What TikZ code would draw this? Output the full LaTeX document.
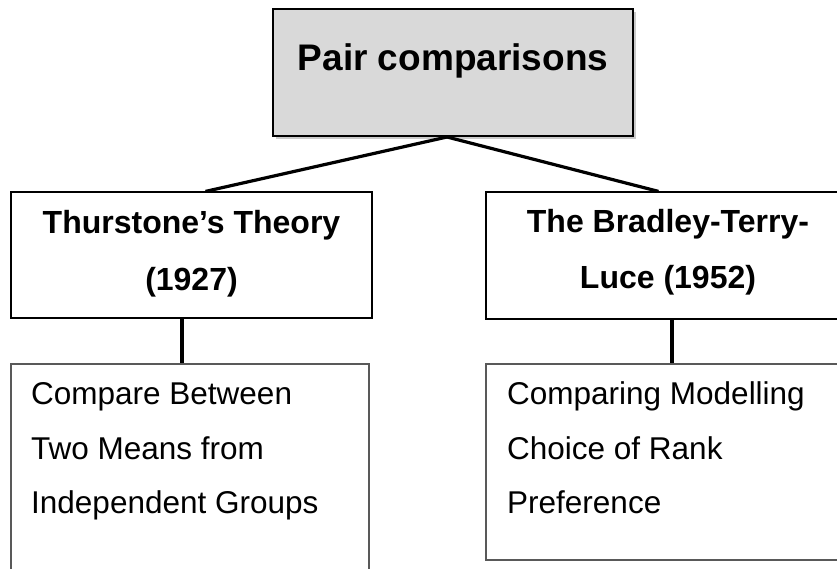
\documentclass[tikz,border=0pt]{standalone}
\usepackage{fontspec}
\setmainfont{Liberation Sans}
\usetikzlibrary{shadows}
\begin{document}
\begin{tikzpicture}[x=1pt,y=-1pt,
  box/.style={draw=black, rectangle, inner sep=0pt, line width=1.2pt},
  topbox/.style={box, fill=black!15, line width=2pt,
    drop shadow={shadow xshift=3pt, shadow yshift=-3pt, opacity=0.35, fill=black!60}},
  leafbox/.style={draw=black!65, rectangle, inner sep=0pt, line width=1.3pt},
  conn/.style={draw=black, line width=3.2pt},
  titletxt/.style={inner sep=0pt, anchor=base, font=\fontsize{37}{40}\selectfont\bfseries},
  headtxt/.style={inner sep=0pt, anchor=base, font=\fontsize{32}{36}\selectfont\bfseries},
  leaftxt/.style={inner sep=0pt, anchor=base west, font=\fontsize{31.5}{36}\selectfont}]
\useasboundingbox (0,0) rectangle (837,568);
% boxes
\node[topbox, minimum width=360pt, minimum height=127pt] (top) at (453,72.5) {};
\node[box, minimum width=361pt, minimum height=126pt] (thur) at (191.5,255) {};
\node[box, minimum width=361pt, minimum height=127pt] (btl) at (666.5,255.5) {};
\node[leafbox, minimum width=358pt, minimum height=226pt] (cmp) at (190,477) {};
\node[leafbox, minimum width=361pt, minimum height=196pt] (crp) at (666.5,462) {};
% texts
\node[titletxt] (ttitle) at (453,70) {Pair comparisons};
\node[headtxt] (tthur1) at (191.5,233) {Thurstone’s Theory};
\node[headtxt] (tthur2) at (191.5,290) {(1927)};
\node[headtxt] (tbtl1) at (668,232) {The Bradley-Terry-};
\node[headtxt] (tbtl2) at (668,288) {Luce (1952)};
\node[leaftxt] (tc1) at (31,404) {Compare Between};
\node[leaftxt] (tc2) at (31,459) {Two Means from};
\node[leaftxt] (tc3) at (31,513) {Independent Groups};
\node[leaftxt] (tr1) at (507,404) {Comparing Modelling};
\node[leaftxt] (tr2) at (507,459) {Choice of Rank};
\node[leaftxt] (tr3) at (507,513) {Preference};
% connectors
\draw[conn] ([xshift=-6pt]top.south) -- ([xshift=14pt]thur.north);
\draw[conn] ([xshift=-6pt]top.south) -- ([xshift=-8pt]btl.north);
\draw[conn] ([xshift=-9.5pt]thur.south) -- ([xshift=-9.5pt]thur.south |- cmp.north);
\draw[conn] ([xshift=5.5pt]btl.south) -- ([xshift=5.5pt]btl.south |- crp.north);
\end{tikzpicture}
\end{document}
